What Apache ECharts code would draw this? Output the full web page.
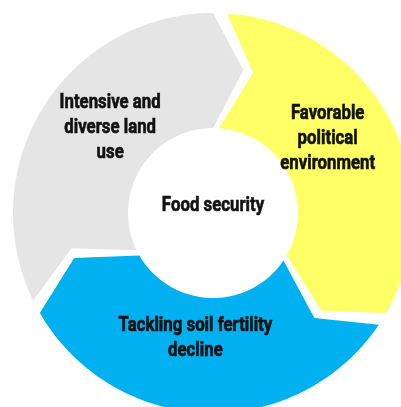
<!DOCTYPE html>
<html><head><meta charset="utf-8">
<script src="https://cdn.jsdelivr.net/npm/echarts@6/dist/echarts.min.js"></script>
<style>html,body{margin:0;padding:0;background:#fff}#c{width:401px;height:407px}</style>
</head><body><div id="c"></div>
<script>
// ---- data ----
const categories = ['Favorable\npolitical\nenvironment', 'Tackling soil fertility\ndecline', 'Intensive and\ndiverse land\nuse'];
const shares = [1, 1, 1];
const centerLabel = 'Food security';

// ---- style / layout ----
const colors = ['#ffff66', '#00b0f0', '#e5e5e5'];
const START = 4, GAP = 4, ARROW = 12, TIP_R = 0.53;
const labelPos = [[57, 0.45], [188, 0.36], [309.5, 0.42]]; // [angle, radius fraction]
const FONT = 'bold 20px Roboto, "DejaVu Sans", sans-serif';
const SX = 0.84;
const TXT = {font: FONT, fill: '#111', stroke: '#111', lineWidth: 0.6, align: 'center', verticalAlign: 'middle'};

const chart = echarts.init(document.getElementById('c'), null, {renderer: 'canvas'});
const total = shares.reduce((a, b) => a + b, 0);

chart.setOption({
  animation: false,
  backgroundColor: '#fff',
  polar: {center: [213, 213], radius: [85, 200]},
  angleAxis: {type: 'value', min: 0, max: 360, startAngle: 90, clockwise: true, show: false},
  radiusAxis: {type: 'value', min: 0, max: 1, show: false},
  graphic: [{
    type: 'text', x: 213, y: 206, scaleX: SX,
    style: Object.assign({text: centerLabel, textAlign: 'center', textVerticalAlign: 'middle'}, TXT)
  }],
  series: [{
    type: 'custom',
    coordinateSystem: 'polar',
    data: shares.map(v => [v, 0]),
    renderItem: function (params, api) {
      const i = params.dataIndex;
      let cum = 0;
      for (let k = 0; k < i; k++) cum += shares[k];
      const s = START + cum / total * 360;
      const e = START + (cum + api.value(0)) / total * 360 - GAP;
      const pts = [];
      const N = 80;
      for (let k = 0; k <= N; k++) pts.push(api.coord([1, s + (e - s) * k / N]));
      pts.push(api.coord([TIP_R, e + ARROW]));
      for (let k = N; k >= 0; k--) pts.push(api.coord([0, s + (e - s) * k / N]));
      pts.push(api.coord([TIP_R, s + ARROW]));
      const lp = api.coord([labelPos[i][1], labelPos[i][0]]);
      return {
        type: 'group',
        children: [
          {type: 'polygon', shape: {points: pts}, style: {fill: colors[i]}},
          {type: 'text', x: lp[0], y: lp[1], scaleX: SX,
           style: Object.assign({text: categories[i], lineHeight: 25}, TXT)}
        ]
      };
    }
  }]
});
</script></body></html>
